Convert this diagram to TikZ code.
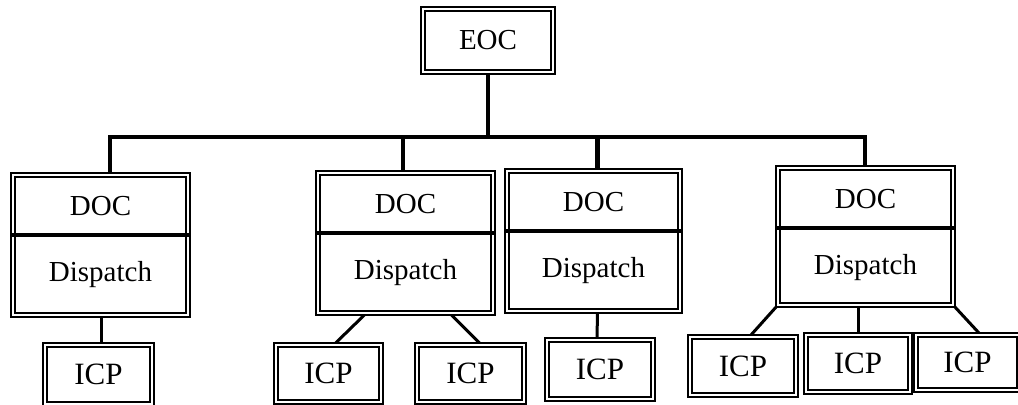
\documentclass[tikz,border=0pt]{standalone}
\usepackage{fontspec}
\setmainfont{Liberation Serif}
\usetikzlibrary{calc,positioning}
\usetikzlibrary{backgrounds}

\begin{document}
\begin{tikzpicture}[x=0.5pt,y=-0.5pt,
  box/.style={draw, double, double distance=1.2pt, line width=0.9pt, inner sep=0pt},
  txt/.style={font=\fontsize{14.5}{17}\selectfont},
  icptxt/.style={font=\fontsize{15.5}{18}\selectfont},
  trunk/.style={line width=2.2pt},
  link/.style={line width=1.5pt},
  divider/.style={line width=2pt}]
  \useasboundingbox (0,0) rectangle (1018,405);

  % the top box
  \node[box, txt, minimum width=65pt, minimum height=31.5pt] (eoc) at (488,40.5) {EOC};

  % the four DOC boxes, each with a dividing line
  \def\divOffset{61}
  \foreach \name/\cx/\cy/\w/\h in {doc1/100.5/245/87.5pt/70pt, doc2/405.5/243/87.5pt/70pt,
                                   doc3/593.5/241/86.5pt/70pt, doc4/865.5/236.5/87.5pt/68.5pt} {
    \node[box, minimum width=\w, minimum height=\h] (\name) at (\cx,\cy) {};
    \node[txt] (\name-top) at ($(\name.north)+(0,32)$) {DOC};
    \node[txt] (\name-bot) at ($(\name.north)+(0,100)$) {Dispatch};
    \draw[divider] ($(\name.north west)+(0,\divOffset)$) -- ($(\name.north east)+(0,\divOffset)$);
  }

  % the ICP boxes along the bottom
  \foreach \name/\cx/\cy/\w/\h in {icp1/98.5/374.5/53.5pt/29.5pt, icp2a/328.5/373.5/52.5pt/28.5pt,
                                   icp2b/470.5/373.5/53.5pt/28.5pt, icp3/600/369.5/53pt/29.5pt,
                                   icp4a/743/366/53pt/29pt, icp4b/858/363.5/52pt/28.5pt,
                                   icp4c/967.5/362.5/51.5pt/27.5pt} {
    \node[box, icptxt, minimum width=\w, minimum height=\h] (\name) at (\cx,\cy) {ICP};
  }

  % connectors go behind the boxes
  \begin{scope}[on background layer]
    \coordinate (busy) at (0,137);
    \coordinate (d1) at ($(doc1.north)+(9.5,0)$);
    \coordinate (d2) at ($(doc2.north)+(-2.5,0)$);
    \coordinate (d3) at ($(doc3.north)+(4,0)$);
    \coordinate (d4) at ($(doc4.north)+(-0.5,0)$);

    % bus from EOC to the DOC boxes
    \draw[trunk] (eoc.south) -- (eoc.south |- busy);
    \draw[trunk] (d1) |- (d4 |- busy) -- (d4);
    \draw[trunk] (d2) -- (d2 |- busy);
    \draw[trunk] (d3) -- (d3 |- busy);

    % DOC to ICP links
    \draw[link] ($(doc1.south)+(0.5,0)$) -- ($(icp1.north)+(2.5,0)$);
    \draw[link] ($(doc2.south)+(-40,0)$) -- ($(icp2a.north)+(6,0)$);
    \draw[link] ($(doc2.south)+(45,0)$) -- ($(icp2b.north)+(10,0)$);
    \draw[link] ($(doc3.south)+(4,0)$) -- ($(icp3.north)+(-3,0)$);
    \draw[link] (doc4.south west) -- ($(icp4a.north)+(7,0)$);
    \draw[link] ($(doc4.south)+(-7.5,0)$) -- (icp4b.north);
    \draw[link] (doc4.south east) -- ($(icp4c.north)+(12.5,0)$);
  \end{scope}

\end{tikzpicture}
\end{document}
